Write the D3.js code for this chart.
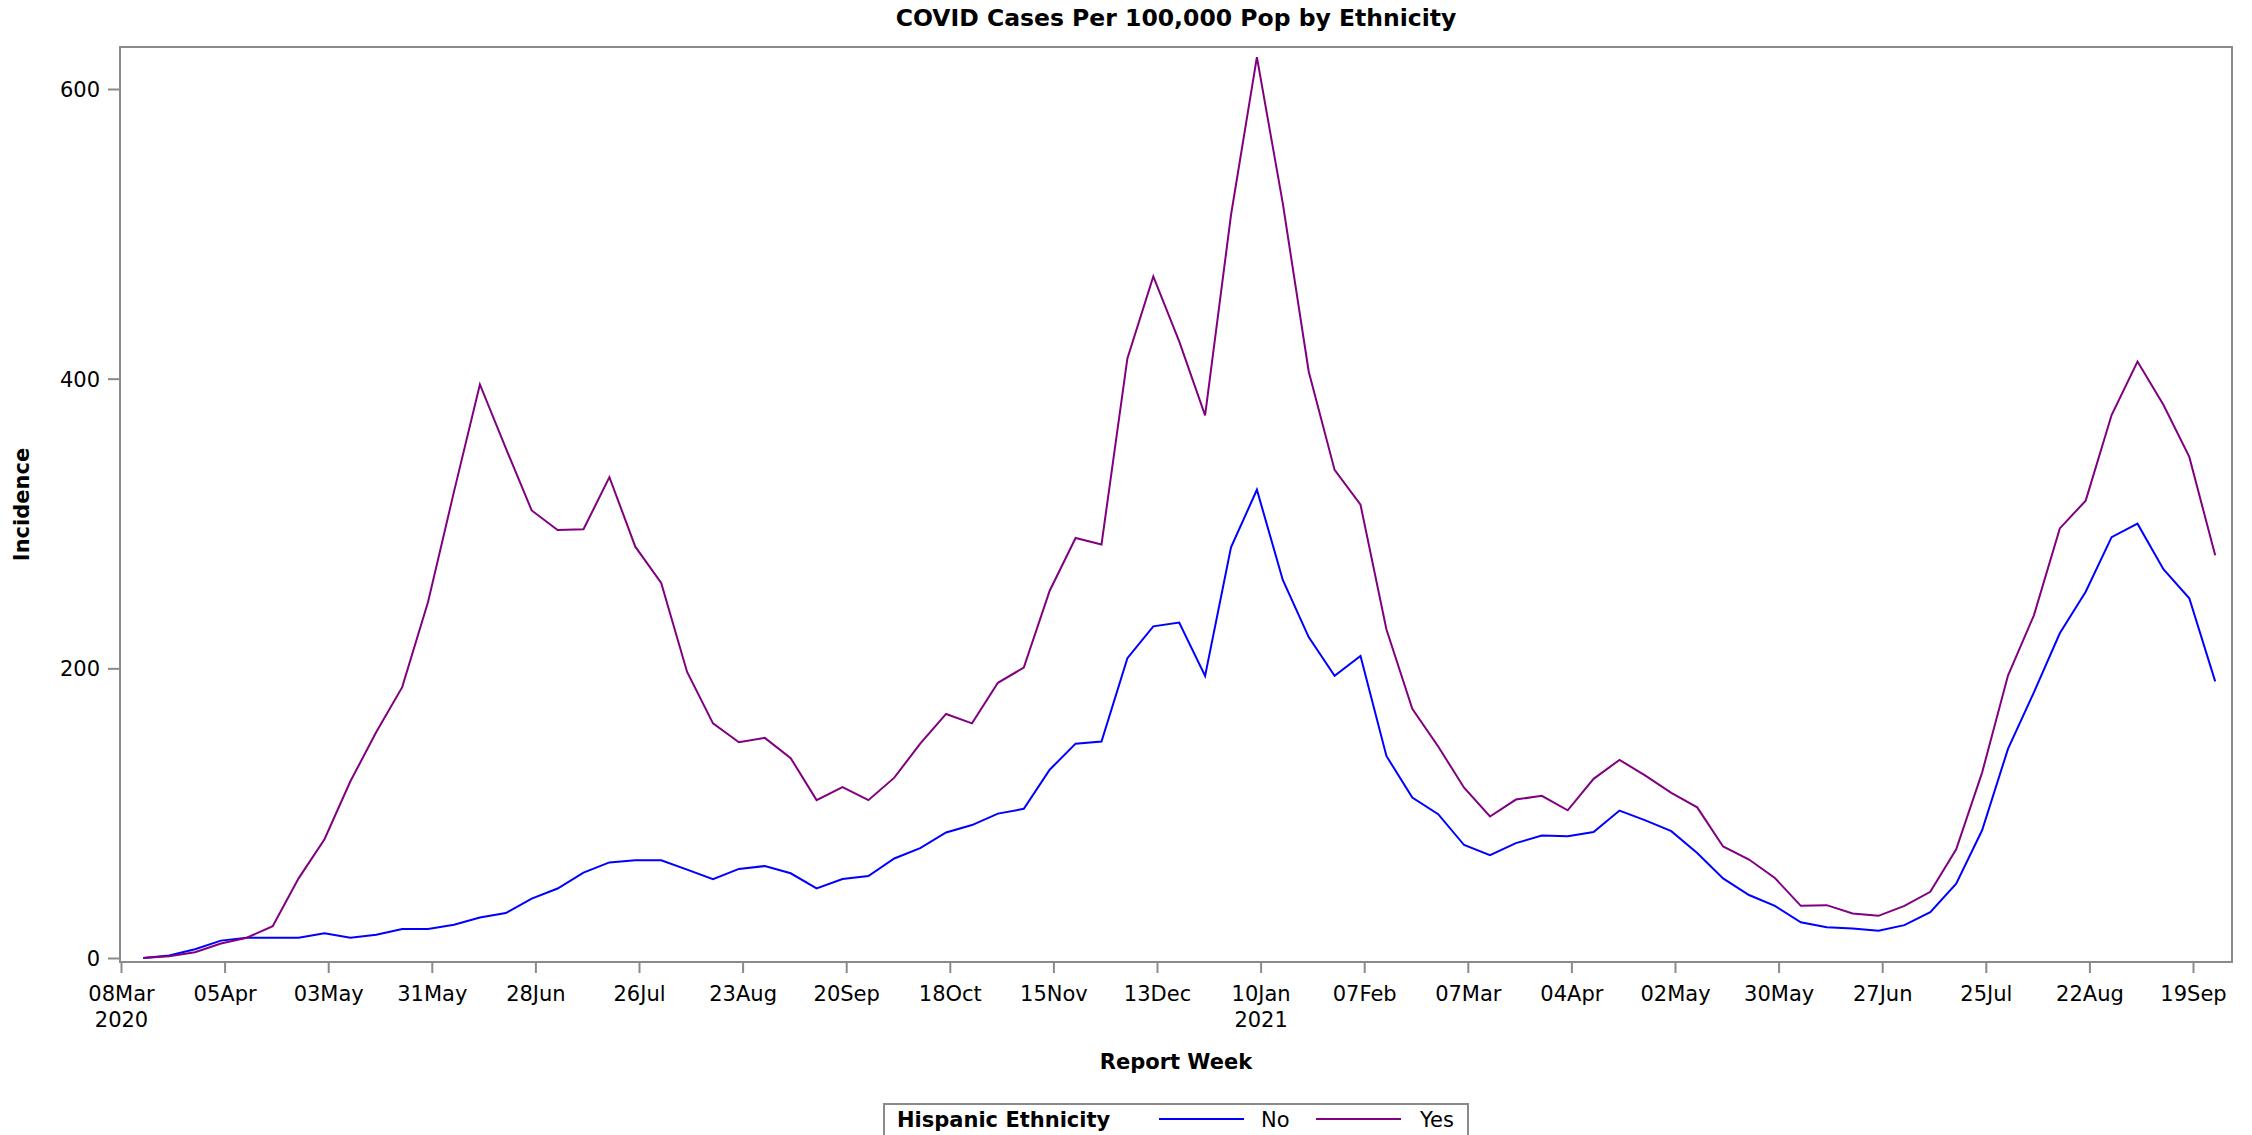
<!DOCTYPE html>
<html>
<head>
<meta charset="utf-8">
<script src="https://cdn.jsdelivr.net/npm/d3@7"></script>
<style>
  html, body { margin: 0; padding: 0; background: #fff; }
  svg { display: block; }
  text { font-family: "DejaVu Sans", sans-serif; fill: #000; }
</style>
</head>
<body>
<script>
// ---- Data ----
const weeks = [
  "2020-03-14","2020-03-21","2020-03-28","2020-04-04","2020-04-11","2020-04-18","2020-04-25",
  "2020-05-02","2020-05-09","2020-05-16","2020-05-23","2020-05-30","2020-06-06","2020-06-13",
  "2020-06-20","2020-06-27","2020-07-04","2020-07-11","2020-07-18","2020-07-25","2020-08-01",
  "2020-08-08","2020-08-15","2020-08-22","2020-08-29","2020-09-05","2020-09-12","2020-09-19",
  "2020-09-26","2020-10-03","2020-10-10","2020-10-17","2020-10-24","2020-10-31","2020-11-07",
  "2020-11-14","2020-11-21","2020-11-28","2020-12-05","2020-12-12","2020-12-19","2020-12-26",
  "2021-01-02","2021-01-09","2021-01-16","2021-01-23","2021-01-30","2021-02-06","2021-02-13",
  "2021-02-20","2021-02-27","2021-03-06","2021-03-13","2021-03-20","2021-03-27","2021-04-03",
  "2021-04-10","2021-04-17","2021-04-24","2021-05-01","2021-05-08","2021-05-15","2021-05-22",
  "2021-05-29","2021-06-05","2021-06-12","2021-06-19","2021-06-26","2021-07-03","2021-07-10",
  "2021-07-17","2021-07-24","2021-07-31","2021-08-07","2021-08-14","2021-08-21","2021-08-28",
  "2021-09-04","2021-09-11","2021-09-18","2021-09-25"
];

const hispanicNo = [
  0, 1.8, 6, 12, 14, 14, 14,
  17, 14, 16, 20, 20, 23, 28,
  31, 41, 48, 59, 66, 67.5, 67.5,
  61, 54.5, 61.5, 63.5, 58.5, 48, 54.5,
  56.6, 68.7, 75.8, 86.7, 91.8, 99.7, 103,
  130, 148, 149.5, 207, 229, 231.6, 194.7,
  283.5, 323.3, 261, 221.6, 194.8, 208.5, 139.5,
  110.8, 99.3, 78, 71, 79.3, 84.5, 84,
  87, 101.8, 95, 87.6, 72.5, 55, 43.5,
  36, 24.7, 21.2, 20.3, 18.8, 22.7, 31.6,
  51.3, 88.2, 144.4, 183.4, 224.2, 252.9, 290.6,
  299.9, 268.5, 248.4, 191
];

const hispanicYes = [
  0, 1.2, 4, 10, 14, 22, 55,
  82, 122, 156, 187, 246, 322, 396,
  352, 309, 295.5, 296, 332, 284, 259,
  197.5, 162, 149, 152, 138, 109, 118,
  109, 124.5, 148, 168.5, 162, 190, 200.5,
  253.6, 290, 285.5, 414, 470.6, 425.7, 374.7,
  513, 622, 521, 405, 337, 313, 227,
  172, 146, 117.6, 97.7, 109.4, 112, 102,
  123.7, 136.8, 125.9, 114, 104, 77, 68,
  55.2, 36, 36.5, 30.7, 29.1, 36, 45.7,
  75, 128, 195, 236.6, 296.6, 315.8, 374.9,
  411.8, 382, 346, 278
];

const xTickDates = [
  "2020-03-08","2020-04-05","2020-05-03","2020-05-31","2020-06-28","2020-07-26","2020-08-23",
  "2020-09-20","2020-10-18","2020-11-15","2020-12-13","2021-01-10","2021-02-07","2021-03-07",
  "2021-04-04","2021-05-02","2021-05-30","2021-06-27","2021-07-25","2021-08-22","2021-09-19"
];
const yearLabels = { "2020-03-08": "2020", "2021-01-10": "2021" };
const yTicks = [0, 200, 400, 600];

const seriesNames = ["No", "Yes"];
const seriesColors = ["#0000ff", "#800080"];

const titleText = "COVID Cases Per 100,000 Pop by Ethnicity";
const xLabel = "Report Week";
const yLabel = "Incidence";
const legendTitle = "Hispanic Ethnicity";

// ---- Layout ----
const W = 2252, H = 1135;
const frame = { left: 120, right: 2232, top: 47, bottom: 962 };

const parse = d3.utcParse("%Y-%m-%d");
const fmt = d3.utcFormat("%d%b");
const keyFmt = d3.utcFormat("%Y-%m-%d");

const x = d3.scaleUtc()
  .domain([parse(xTickDates[0]), parse(xTickDates[xTickDates.length - 1])])
  .range([121, 2193]);
const y = d3.scaleLinear().domain([0, 600]).range([958, 89]);

const svg = d3.select("body").append("svg").attr("width", W).attr("height", H);

const axisColor = "#8a8a8a";

// frame
svg.append("rect")
  .attr("x", frame.left).attr("y", frame.top)
  .attr("width", frame.right - frame.left).attr("height", frame.bottom - frame.top)
  .attr("fill", "none").attr("stroke", axisColor).attr("stroke-width", 2);

// x axis
const xAxis = d3.axisBottom(x)
  .tickValues(xTickDates.map(parse))
  .tickSize(11)
  .tickPadding(6)
  .tickFormat(d => fmt(d));
const gx = svg.append("g").attr("transform", `translate(0,${frame.bottom})`).call(xAxis);
gx.select(".domain").remove();
gx.selectAll(".tick line").attr("stroke", axisColor).attr("stroke-width", 2);
gx.selectAll(".tick text")
  .attr("font-size", 21).attr("font-family", "DejaVu Sans, sans-serif").attr("fill", "#000")
  .attr("dy", null)
  .each(function(d) {
    const t = d3.select(this);
    t.text(null);
    t.append("tspan").attr("x", 0).attr("y", 39).text(fmt(d));
    const yr = yearLabels[keyFmt(d)];
    if (yr) t.append("tspan").attr("x", 0).attr("y", 65).text(yr);
  });

// y axis
const yAxis = d3.axisLeft(y).tickValues(yTicks).tickSize(12).tickPadding(8).tickFormat(d3.format("d"));
const gy = svg.append("g").attr("transform", `translate(${frame.left},0)`).call(yAxis);
gy.select(".domain").remove();
gy.selectAll(".tick line").attr("stroke", axisColor).attr("stroke-width", 2);
gy.selectAll(".tick text")
  .attr("font-size", 21).attr("font-family", "DejaVu Sans, sans-serif").attr("fill", "#000")
  .attr("dy", "0.36em");

// lines
const series = [hispanicNo, hispanicYes];
const line = d3.line()
  .x((d, i) => x(parse(weeks[i])))
  .y(d => y(d));
series.forEach((vals, k) => {
  svg.append("path")
    .datum(vals)
    .attr("d", line)
    .attr("fill", "none")
    .attr("stroke", seriesColors[k])
    .attr("stroke-width", 2)
    .attr("stroke-linejoin", "miter");
});

// title
svg.append("text")
  .attr("x", (frame.left + frame.right) / 2).attr("y", 26)
  .attr("text-anchor", "middle")
  .attr("font-size", 23.5).attr("font-weight", "bold")
  .text(titleText);

// axis labels
svg.append("text")
  .attr("x", (frame.left + frame.right) / 2).attr("y", 1069)
  .attr("text-anchor", "middle")
  .attr("font-size", 21).attr("font-weight", "bold")
  .text(xLabel);

svg.append("text")
  .attr("transform", `translate(29,${(frame.top + frame.bottom) / 2}) rotate(-90)`)
  .attr("text-anchor", "middle")
  .attr("font-size", 21).attr("font-weight", "bold")
  .text(yLabel);

// legend
const lg = svg.append("g");
lg.append("rect")
  .attr("x", 884).attr("y", 1104).attr("width", 584).attr("height", 40)
  .attr("fill", "none").attr("stroke", axisColor).attr("stroke-width", 2);
lg.append("text")
  .attr("x", 897).attr("y", 1127)
  .attr("font-size", 21).attr("font-weight", "bold")
  .text(legendTitle);
const legendItems = [
  { x1: 1159, x2: 1244, tx: 1261 },
  { x1: 1316, x2: 1401, tx: 1420 }
];
legendItems.forEach((it, k) => {
  lg.append("line")
    .attr("x1", it.x1).attr("x2", it.x2).attr("y1", 1119).attr("y2", 1119)
    .attr("stroke", seriesColors[k]).attr("stroke-width", 2);
  lg.append("text")
    .attr("x", it.tx).attr("y", 1127)
    .attr("font-size", 21)
    .text(seriesNames[k]);
});
</script>
</body>
</html>
